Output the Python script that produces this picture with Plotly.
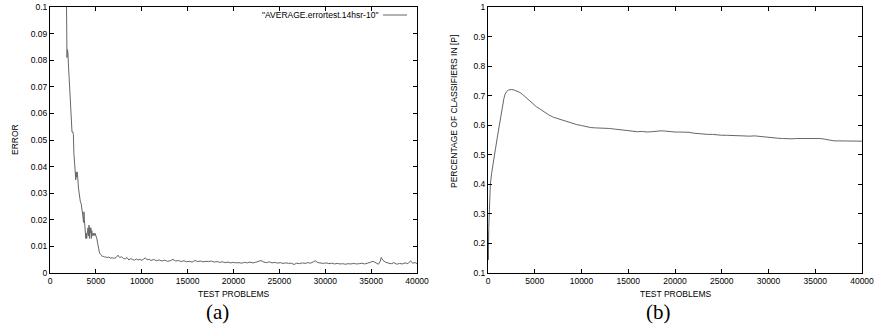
import plotly.graph_objects as go

# ---- data: (a) error curve ----
err_x = [1700, 1760, 1800, 1850, 1900, 1950, 2000, 2100, 2200, 2300, 2400, 2500, 2550, 2600, 2650,
         2700, 2750, 2800, 2850, 2900, 2950, 3000, 3100, 3200, 3300, 3400, 3500, 3600, 3650, 3700,
         3750, 3800, 3900, 3950, 4000, 4100, 4150, 4200, 4250, 4300, 4350, 4400, 4450, 4500, 4550,
         4600, 4700, 4800, 4900, 5000, 5100, 5200, 5300, 5400, 5500, 5600, 5700, 5800, 5900, 6000,
         6200, 6400, 6600, 6800, 7000, 7200, 7400, 7600, 7800, 8000, 8200, 8400, 8600, 8800, 9000,
         9200, 9400, 9600, 9800, 10000, 10200, 10400, 10600, 10800, 11000, 11300, 11600, 11900,
         12200, 12500, 12800, 13100, 13400, 13700, 14000, 14300, 14600, 14900, 15200, 15500, 15800,
         16100, 16400, 16700, 17000, 17300, 17600, 17900, 18200, 18500, 18800, 19100, 19400, 19700,
         20000, 20300, 20600, 20900, 21200, 21500, 21800, 22100, 22400, 22700, 23000, 23300, 23600,
         23900, 24200, 24500, 24800, 25100, 25400, 25700, 26000, 26300, 26600, 26900, 27200, 27500,
         27800, 28100, 28400, 28700, 28900, 29200, 29500, 29800, 30100, 30400, 30700, 31000, 31300,
         31600, 31900, 32200, 32500, 32800, 33100, 33400, 33700, 34000, 34300, 34600, 34900, 35200,
         35500, 35800, 36000, 36100, 36300, 36600, 36900, 37200, 37500, 37800, 38100, 38400, 38700,
         39000, 39300, 39500, 39800, 40000]
err_y = [0.14, 0.095, 0.083, 0.081, 0.084, 0.083, 0.079, 0.072, 0.067, 0.058, 0.053, 0.053, 0.052,
         0.045, 0.040, 0.040, 0.038, 0.035, 0.038, 0.036, 0.038, 0.037, 0.032, 0.029, 0.027, 0.026,
         0.024, 0.021, 0.019, 0.023, 0.020, 0.016, 0.013, 0.015, 0.013, 0.016, 0.017, 0.014, 0.018,
         0.013, 0.017, 0.015, 0.017, 0.013, 0.016, 0.014, 0.015, 0.014, 0.015, 0.014, 0.013, 0.011,
         0.009, 0.0075, 0.007, 0.0068, 0.0062, 0.0063, 0.006, 0.0061, 0.0058, 0.006, 0.0056, 0.0057,
         0.0055, 0.0058, 0.0067, 0.0058, 0.0061, 0.0055, 0.0053, 0.0058, 0.0049, 0.0054, 0.0051,
         0.0048, 0.0053, 0.0049, 0.0051, 0.0048, 0.0052, 0.0057, 0.0049, 0.0052, 0.0047, 0.0051,
         0.0046, 0.0049, 0.0045, 0.0048, 0.0044, 0.0046, 0.0051, 0.0045, 0.0047, 0.0043, 0.0046,
         0.0042, 0.0044, 0.0041, 0.0047, 0.0043, 0.0045, 0.0042, 0.0044, 0.0043, 0.0045, 0.0041,
         0.0043, 0.0040, 0.0042, 0.0039, 0.0041, 0.0038, 0.0040, 0.0038, 0.0039, 0.0037, 0.0040,
         0.0038, 0.0041, 0.0038, 0.0040, 0.0043, 0.0047, 0.0041, 0.0039, 0.0042, 0.0038, 0.0040,
         0.0037, 0.0039, 0.0036, 0.0038, 0.0036, 0.0037, 0.0032, 0.0037, 0.0035, 0.0038, 0.0036,
         0.0039, 0.0037, 0.0042, 0.0046, 0.0039, 0.0037, 0.0036, 0.0038, 0.0035, 0.0037, 0.0034,
         0.0036, 0.0034, 0.0035, 0.0033, 0.0035, 0.0034, 0.0036, 0.0034, 0.0035, 0.0037, 0.0034,
         0.0036, 0.0040, 0.0044, 0.0037, 0.0033, 0.0045, 0.0058, 0.0047, 0.0040, 0.0037, 0.0035,
         0.0039, 0.0033, 0.0036, 0.0034, 0.0038, 0.0035, 0.0046, 0.0037, 0.0039, 0.0035]

# ---- data: (b) percentage of classifiers in [P] ----
pct_x = [0, 40, 80, 150, 250, 400, 570, 800, 1000, 1280, 1500, 1700, 1820, 2000, 2200, 2500, 2800,
         3100, 3400, 3700, 4000, 4400, 4800, 5200, 5600, 6000, 6500, 7000, 7500, 8000, 8500, 9000,
         9500, 10000, 10500, 11000, 11500, 12000, 12500, 13000, 13500, 14000, 14500, 15000, 15500,
         16000, 16500, 17000, 17500, 18000, 18500, 19000, 19500, 20000, 20500, 21000, 21500, 22000,
         22500, 23000, 23500, 24000, 24500, 25000, 25500, 26000, 26500, 27000, 27500, 28000, 28500,
         29000, 29500, 30000, 30500, 31000, 31500, 32000, 32500, 33000, 33500, 34000, 34500, 35000,
         35500, 36000, 36500, 37000, 37500, 38000, 38500, 39000, 39500, 40000]
pct_y = [0.24, 0.145, 0.25, 0.33, 0.40, 0.44, 0.48, 0.52, 0.56, 0.617, 0.66, 0.69, 0.705, 0.714,
         0.719, 0.721, 0.719, 0.716, 0.711, 0.704, 0.695, 0.684, 0.672, 0.662, 0.654, 0.645, 0.635,
         0.627, 0.622, 0.617, 0.611, 0.606, 0.602, 0.599, 0.595, 0.592, 0.591, 0.591, 0.590, 0.589,
         0.587, 0.585, 0.583, 0.581, 0.578, 0.578, 0.579, 0.577, 0.578, 0.580, 0.581, 0.580, 0.578,
         0.577, 0.577, 0.577, 0.576, 0.573, 0.571, 0.570, 0.569, 0.569, 0.567, 0.566, 0.566, 0.565,
         0.564, 0.563, 0.562, 0.563, 0.564, 0.562, 0.560, 0.558, 0.557, 0.556, 0.555, 0.554, 0.554,
         0.555, 0.555, 0.555, 0.556, 0.556, 0.555, 0.553, 0.549, 0.547, 0.547, 0.547, 0.547, 0.546,
         0.546, 0.546]

x_ticks = [0, 5000, 10000, 15000, 20000, 25000, 30000, 35000, 40000]
x_tick_text = ["0", "5000", "10000", "15000", "20000", "25000", "30000", "35000", "40000"]
err_ticks = [0, 0.01, 0.02, 0.03, 0.04, 0.05, 0.06, 0.07, 0.08, 0.09, 0.1]
err_tick_text = ["0", "0.01", "0.02", "0.03", "0.04", "0.05", "0.06", "0.07", "0.08", "0.09", "0.1"]
pct_ticks = [0.1, 0.2, 0.3, 0.4, 0.5, 0.6, 0.7, 0.8, 0.9, 1.0]
pct_tick_text = ["0.1", "0.2", "0.3", "0.4", "0.5", "0.6", "0.7", "0.8", "0.9", "1"]

legend_label = '"AVERAGE.errortest.14hsr-10"'
W, H = 879, 326
FONT = "Liberation Sans"
LINE = "#666666"

fig = go.Figure()
fig.add_trace(go.Scatter(x=err_x, y=err_y, mode="lines", xaxis="x", yaxis="y",
                         line=dict(color=LINE, width=1), showlegend=False))
fig.add_trace(go.Scatter(x=pct_x, y=pct_y, mode="lines", xaxis="x2", yaxis="y2",
                         line=dict(color=LINE, width=1), showlegend=False))

ax_common = dict(showline=True, mirror="allticks", linecolor="black", linewidth=1,
                 ticks="inside", ticklen=4, tickcolor="black", tickwidth=1,
                 showgrid=False, zeroline=False, automargin=False,
                 tickfont=dict(family=FONT, size=8.5, color="black"))

ydom = [(H - 273) / H, (H - 7) / H]
fig.update_layout(
    width=W, height=H, margin=dict(l=0, r=0, t=0, b=0),
    paper_bgcolor="white", plot_bgcolor="white",
    xaxis=dict(domain=[50 / W, 417 / W], range=[0, 40000], tickvals=x_ticks,
               ticktext=x_tick_text, anchor="y", **ax_common),
    yaxis=dict(domain=ydom, range=[0, 0.1], tickvals=err_ticks, ticktext=err_tick_text,
               anchor="x", **ax_common),
    xaxis2=dict(domain=[488 / W, 862 / W], range=[0, 40000], tickvals=x_ticks,
                ticktext=x_tick_text, anchor="y2", **ax_common),
    yaxis2=dict(domain=ydom, range=[0.1, 1.0], tickvals=pct_ticks, ticktext=pct_tick_text,
                anchor="x2", **ax_common),
)

af = dict(family=FONT, size=8.5, color="black")
cap_font = dict(family="Liberation Serif", size=21, color="black")
annotations = [
    dict(text="TEST PROBLEMS", x=233 / W, y=(H - 294) / H, xref="paper", yref="paper",
         showarrow=False, font=af, xanchor="center", yanchor="middle"),
    dict(text="TEST PROBLEMS", x=675 / W, y=(H - 294) / H, xref="paper", yref="paper",
         showarrow=False, font=af, xanchor="center", yanchor="middle"),
    dict(text="ERROR", x=15 / W, y=(H - 140) / H, xref="paper", yref="paper", textangle=-90,
         showarrow=False, font=af, xanchor="center", yanchor="middle"),
    dict(text="PERCENTAGE OF CLASSIFIERS IN [P]", x=454 / W, y=(H - 111) / H, xref="paper",
         yref="paper", textangle=-90, showarrow=False, font=af, xanchor="center", yanchor="middle"),
    dict(text=legend_label, x=380 / W, y=(H - 15) / H, xref="paper", yref="paper",
         showarrow=False, font=af, xanchor="right", yanchor="middle"),
    dict(text="(a)", x=217 / W, y=(H - 312) / H, xref="paper", yref="paper",
         showarrow=False, font=cap_font, xanchor="center", yanchor="middle",
         borderpad=0),
    dict(text="(b)", x=658 / W, y=(H - 312) / H, xref="paper", yref="paper",
         showarrow=False, font=cap_font, xanchor="center", yanchor="middle",
         borderpad=0),
]
fig.update_layout(annotations=annotations)
fig.add_shape(type="line", xref="paper", yref="paper", x0=383 / W, x1=407 / W,
              y0=(H - 15) / H, y1=(H - 15) / H, line=dict(color=LINE, width=1))

fig.write_html("out.html", config={"displayModeBar": False},
               post_script="document.body.style.margin='0';document.body.style.overflow='hidden';")
